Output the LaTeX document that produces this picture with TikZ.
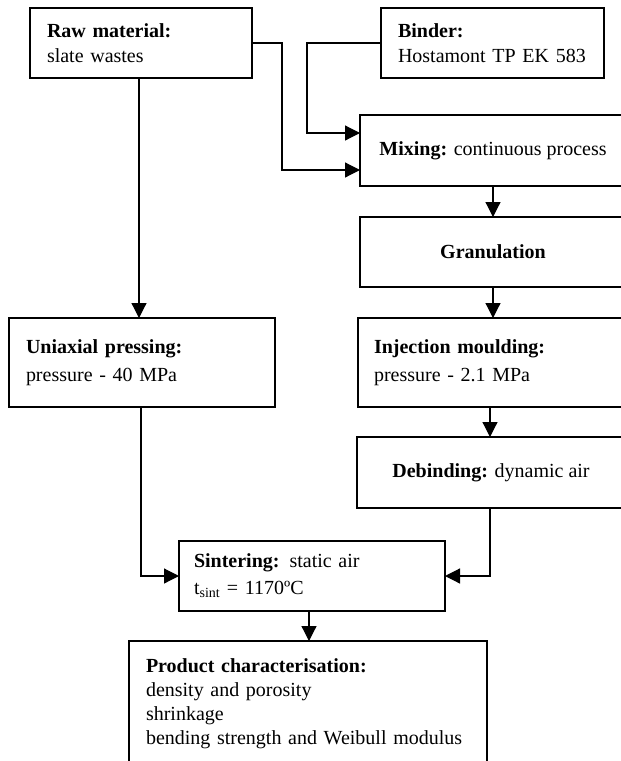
\documentclass[tikz,border=0pt]{standalone}
\usepackage{fontspec}
\setmainfont{Liberation Serif}
\usetikzlibrary{arrows.meta,calc}
\tikzset{
  box/.style={draw, line width=1.2pt, rectangle, anchor=north west, outer sep=0pt,
    inner ysep=0pt, font=\fontsize{20}{25}\selectfont},
  lbox/.style={box, align=left},
  cbox/.style={box, align=center},
  conn/.style={line width=1.2pt, -{Triangle[length=15pt,width=15pt]}},
}
\begin{document}
\begin{tikzpicture}[x=1pt,y=-1pt]
\useasboundingbox (0,0) rectangle (621,761);
\node[lbox, minimum width=222pt, minimum height=70pt, inner xsep=17pt, text width=188pt] (raw) at (30,8)
  {\textbf{Raw material:}\\slate wastes};
\node[lbox, minimum width=223pt, minimum height=70pt, inner xsep=17pt, text width=189pt] (binder) at (381,8)
  {\textbf{Binder:}\\Hostamont TP EK 583};
\node[cbox, minimum width=266pt, minimum height=71pt] (mix) at (360,115)
  {\textbf{Mixing:} continuous process};
\node[cbox, minimum width=266pt, minimum height=70pt] (gran) at (360,217)
  {\textbf{Granulation}};
\node[lbox, minimum width=268pt, minimum height=89pt, inner xsep=16pt, text width=236pt] (inj) at (358,318)
  {\textbf{Injection moulding:}\\[3pt]pressure - 2.1 MPa};
\node[lbox, minimum width=266pt, minimum height=89pt, inner xsep=17pt, text width=232pt] (uni) at (9,318)
  {\textbf{Uniaxial pressing:}\\[3pt]pressure - 40 MPa};
\node[cbox, minimum width=268pt, minimum height=71pt] (deb) at (357,437)
  {\textbf{Debinding:} dynamic air};
\node[lbox, minimum width=266pt, minimum height=70pt, inner xsep=15pt, text width=236pt] (sint) at (179,541)
  {\textbf{Sintering:} static air\\[2pt]t\textsubscript{sint} = 1170ºC};
\node[lbox, minimum width=358pt, minimum height=125pt, inner xsep=17pt, text width=324pt] (prod) at (129,641)
  {\textbf{Product characterisation:}\\[-1pt]density and porosity\\[-1pt]shrinkage\\[-1pt]bending strength and Weibull modulus};

\draw[conn] (raw.east) -- ++(30,0) |- ($(mix.west)+(0,19.5)$);
\draw[conn] (binder.west) -- ++(-74,0) |- ($(mix.west)+(0,-17.5)$);
\draw[conn] ($(raw.south)+(-2,0)$) -- ($(raw.south |- uni.north)+(-2,0)$);
\draw[conn] (mix.south) -- (mix.south |- gran.north);
\draw[conn] (gran.south) -- (gran.south |- inj.north);
\draw[conn] ($(inj.south)+(-2,0)$) -- ($(inj.south |- deb.north)+(-2,0)$);
\draw[conn] ($(uni.south)+(-1,0)$) |- (sint.west);
\draw[conn] ($(deb.south)+(-1,0)$) |- (sint.east);
\draw[conn] ($(sint.south)+(-3,0)$) -- ($(sint.south |- prod.north)+(-3,0)$);
\end{tikzpicture}
\end{document}
